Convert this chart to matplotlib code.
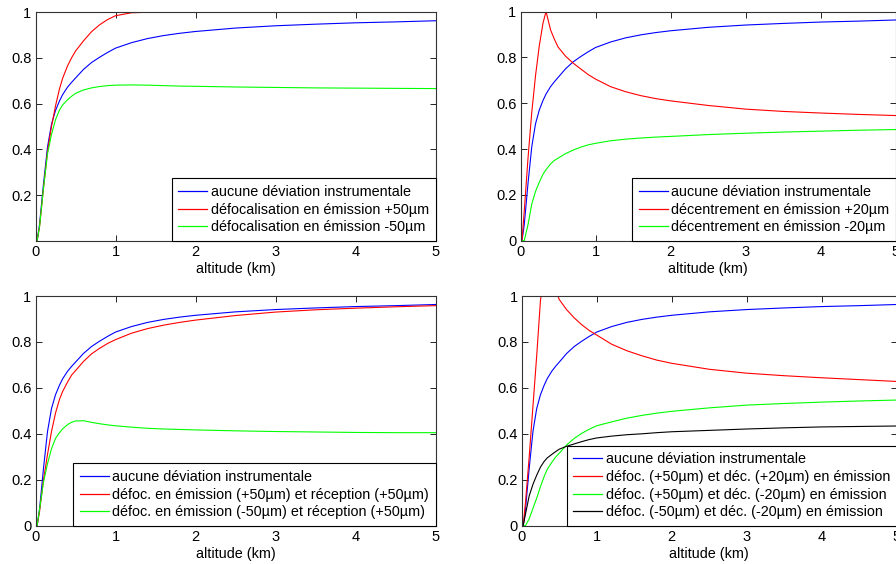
import matplotlib
matplotlib.use('Agg')
import matplotlib.pyplot as plt

plt.rcParams['font.family'] = ['Liberation Sans', 'DejaVu Sans']

# ---------------- data ----------------
altitude = [0.02, 0.05, 0.1, 0.15, 0.2, 0.25, 0.3, 0.34, 0.4, 0.45, 0.5, 0.6, 0.7,
            0.8, 0.9, 1.0, 1.2, 1.4, 1.6, 1.8, 2.0, 2.5, 3.0, 3.5, 4.0, 4.5, 5.0]

# aucune déviation instrumentale (same in all panels)
ref = [0.0, 0.07, 0.25, 0.41, 0.51, 0.57, 0.612, 0.64, 0.672, 0.693, 0.712, 0.75, 0.78,
       0.803, 0.824, 0.843, 0.867, 0.885, 0.898, 0.908, 0.916, 0.931, 0.941, 0.948, 0.954, 0.958, 0.963]

# panel 1
defoc_p50 = [0.0, 0.06, 0.23, 0.39, 0.50, 0.59, 0.665, 0.712, 0.765, 0.80, 0.83, 0.875, 0.915,
             0.945, 0.968, 0.985, 0.998, 1.0, 1.0, 1.0, 1.0, 1.0, 1.0, 1.0, 1.0, 1.0, 1.0]
defoc_m50 = [0.0, 0.06, 0.23, 0.38, 0.465, 0.53, 0.572, 0.595, 0.617, 0.632, 0.645, 0.660, 0.669,
             0.675, 0.679, 0.681, 0.682, 0.681, 0.679, 0.677, 0.676, 0.673, 0.671, 0.669, 0.668, 0.667, 0.666]

# panel 2
decent_p20 = [0.0, 0.13, 0.36, 0.56, 0.72, 0.85, 0.95, 1.0, 0.92, 0.88, 0.845, 0.805, 0.775,
              0.75, 0.725, 0.705, 0.672, 0.650, 0.633, 0.620, 0.610, 0.590, 0.574, 0.564, 0.557, 0.551, 0.546]
decent_m20 = [0.0, 0.0, 0.07, 0.16, 0.215, 0.255, 0.29, 0.31, 0.335, 0.35, 0.36, 0.38, 0.395,
              0.408, 0.418, 0.425, 0.436, 0.443, 0.448, 0.452, 0.455, 0.463, 0.469, 0.474, 0.478, 0.482, 0.485]

# panel 3
em_p50_rec_p50 = [0.0, 0.06, 0.20, 0.31, 0.41, 0.49, 0.55, 0.585, 0.625, 0.655, 0.675, 0.715, 0.748,
                  0.772, 0.793, 0.81, 0.838, 0.858, 0.873, 0.885, 0.895, 0.915, 0.93, 0.94, 0.947, 0.953, 0.958]
em_m50_rec_p50 = [0.0, 0.07, 0.19, 0.27, 0.335, 0.38, 0.405, 0.422, 0.44, 0.45, 0.456, 0.457, 0.45,
                  0.444, 0.439, 0.435, 0.429, 0.424, 0.421, 0.419, 0.417, 0.413, 0.41, 0.408, 0.406, 0.405, 0.405]

# panel 4
defoc_p50_dec_p20 = [0.0, 0.10, 0.30, 0.52, 0.74, 0.98, 1.10, 1.12, 1.09, 1.03, 0.985, 0.94, 0.905,
                     0.875, 0.85, 0.83, 0.79, 0.762, 0.74, 0.721, 0.707, 0.681, 0.664, 0.653, 0.644, 0.636, 0.628]
defoc_p50_dec_m20 = [0.0, 0.0, 0.03, 0.075, 0.12, 0.17, 0.215, 0.245, 0.275, 0.298, 0.315, 0.352, 0.38,
                     0.402, 0.42, 0.435, 0.452, 0.468, 0.48, 0.49, 0.498, 0.513, 0.525, 0.532, 0.538, 0.543, 0.547]
defoc_m50_dec_m20 = [0.0, 0.05, 0.13, 0.18, 0.22, 0.255, 0.28, 0.295, 0.31, 0.322, 0.333, 0.346, 0.356,
                     0.366, 0.375, 0.382, 0.39, 0.396, 0.40, 0.405, 0.409, 0.415, 0.421, 0.426, 0.43, 0.432, 0.434]

xticks = [0, 1, 2, 3, 4, 5]
yticks_full = [0, 0.2, 0.4, 0.6, 0.8, 1]
ytick_labels_full = ['0', '0.2', '0.4', '0.6', '0.8', '1']
yticks_nozero = [0.2, 0.4, 0.6, 0.8, 1]
ytick_labels_nozero = ['0.2', '0.4', '0.6', '0.8', '1']
xlabel = 'altitude (km)'

panels = [
    dict(series=[(ref, 'aucune déviation instrumentale', '#0000ff'),
                 (defoc_p50, 'défocalisation en émission +50µm', '#ff0000'),
                 (defoc_m50, 'défocalisation en émission -50µm', '#00ff00')],
         yt=(yticks_nozero, ytick_labels_nozero)),
    dict(series=[(ref, 'aucune déviation instrumentale', '#0000ff'),
                 (decent_p20, 'décentrement en émission +20µm', '#ff0000'),
                 (decent_m20, 'décentrement en émission -20µm', '#00ff00')],
         yt=(yticks_full, ytick_labels_full)),
    dict(series=[(ref, 'aucune déviation instrumentale', '#0000ff'),
                 (em_p50_rec_p50, 'défoc. en émission (+50µm) et réception (+50µm)', '#ff0000'),
                 (em_m50_rec_p50, 'défoc. en émission (-50µm) et réception (+50µm)', '#00ff00')],
         yt=(yticks_full, ytick_labels_full)),
    dict(series=[(ref, 'aucune déviation instrumentale', '#0000ff'),
                 (defoc_p50_dec_p20, 'défoc. (+50µm) et déc. (+20µm) en émission', '#ff0000'),
                 (defoc_p50_dec_m20, 'défoc. (+50µm) et déc. (-20µm) en émission', '#00ff00'),
                 (defoc_m50_dec_m20, 'défoc. (-50µm) et déc. (-20µm) en émission', '#000000')],
         yt=(yticks_full, ytick_labels_full)),
]

W, H = 896, 564
# axes boxes in pixels: (left, top, right, bottom)
boxes = [(35.5, 12.3, 435.5, 240.7),
         (520.5, 11.5, 896.0, 240.7),
         (35.5, 296.0, 435.5, 525.7),
         (521.7, 296.0, 896.7, 525.7)]

fig = plt.figure(figsize=(W / 100, H / 100), dpi=100)
spine_col = '#333333'

for p, (l, t, r, b) in zip(panels, boxes):
    ax = fig.add_axes([l / W, 1 - b / H, (r - l) / W, (b - t) / H])
    for ys, lab, col in p['series']:
        ax.plot(altitude, ys, color=col, lw=0.8, label=lab)
    ax.set_xlim(0, 5)
    ax.set_ylim(0, 1)
    ax.set_xticks(xticks)
    ax.set_xticklabels([str(v) for v in xticks])
    ax.set_yticks(p['yt'][0])
    ax.set_yticklabels(p['yt'][1])
    ax.tick_params(direction='in', top=True, right=True, length=4, width=0.6,
                   labelsize=10.5, colors='black', pad=3)
    for s in ax.spines.values():
        s.set_color(spine_col)
        s.set_linewidth(0.8)
    ax.set_xlabel(xlabel, fontsize=10.4, labelpad=2)
    leg = ax.legend(loc='lower right', bbox_to_anchor=(1, 0), borderaxespad=0,
                    fontsize=10.4, handlelength=2.0, handletextpad=0.25,
                    borderpad=0.45, labelspacing=0.25, fancybox=False,
                    framealpha=1, edgecolor='black')
    leg.get_frame().set_linewidth(0.8)
    for hl in leg.get_lines():
        hl.set_linewidth(0.9)

fig.savefig('out.png', dpi=100, facecolor='white')
